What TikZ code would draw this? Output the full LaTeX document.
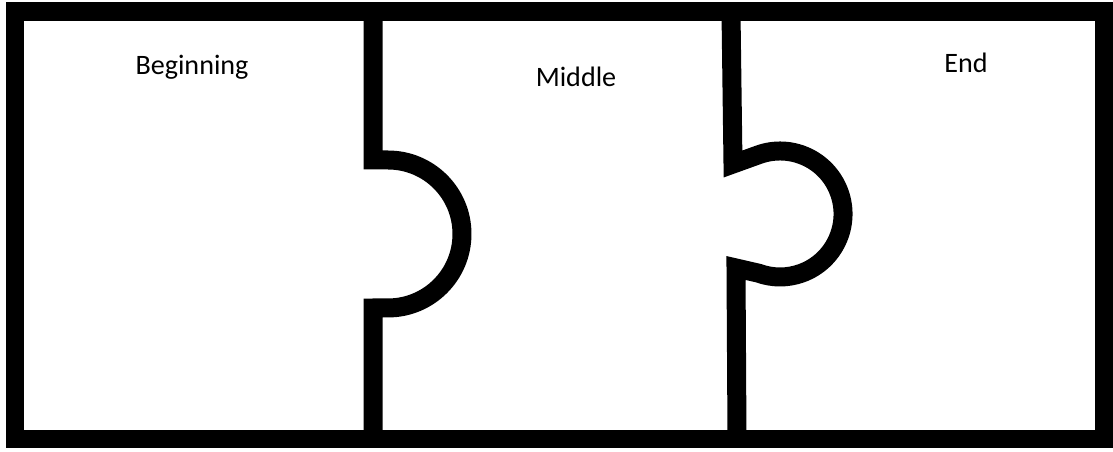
\documentclass[tikz,border=0pt]{standalone}
\usepackage{fontspec}
\setmainfont{Carlito}
\usetikzlibrary{positioning, calc}

\begin{document}
\begin{tikzpicture}[
  x=0.02cm, y=-0.02cm,
  frame/.style={draw=black, line width=0.38cm},
  joint/.style={draw=black, line width=0.38cm},
  lbl/.style={font=\fontsize{16}{19}\selectfont, anchor=base, inner sep=0pt},
]
  \useasboundingbox (0,0) rectangle (1113,452);
  \fill[white] (0,0) rectangle (1113,452);

  % --- Outer frame ---
  \draw[frame] (15,12) rectangle (1104,439);

  % --- First joint (Beginning / Middle) ---
  \draw[joint] (373,12) -- (373,160) -- (388,160)
    arc[start angle=90, end angle=-90, radius=1.48cm]
    -- (373,308) -- (373,439);

  % --- Second joint (Middle / End) ---
  \draw[joint] (731,12) -- (733,164) -- (758.5,154.8)
    arc[start angle=110, end angle=-110, radius=1.26cm]
    -- (736,268) -- (737,439);

  % --- Labels ---
  \node[lbl] (beginning) at (192,75) {Beginning};
  \node[lbl] (middle) at (576,87) {Middle};
  \node[lbl] (end) at (966,73) {End};

\end{tikzpicture}
\end{document}
